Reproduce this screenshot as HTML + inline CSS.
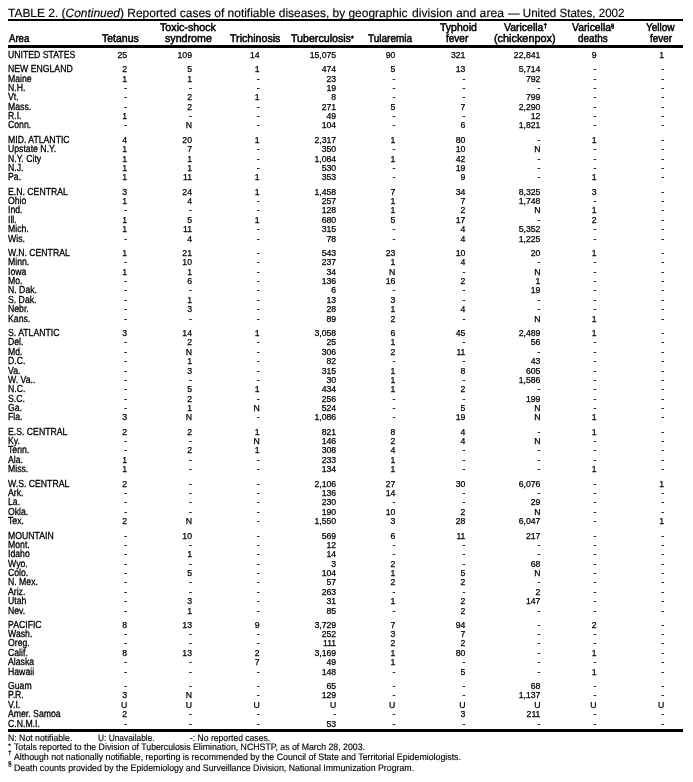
<!DOCTYPE html>
<html lang="en"><head><meta charset="utf-8"><title>TABLE 2. (Continued) Reported cases of notifiable diseases</title>
<style>
html,body{margin:0;padding:0;background:#fff;}
body{width:693px;height:782px;position:relative;overflow:hidden;text-rendering:geometricPrecision;-webkit-text-stroke:0.3px #000;font-family:"Liberation Sans",Arial,Helvetica,sans-serif;color:#000;}
.t,.r,.r span,.h,.f{position:absolute;white-space:nowrap;line-height:1;}
.r{left:0;width:693px;height:0;font-size:8.7px;}
.r span{top:0px;text-rendering:auto;-webkit-text-stroke-width:0.25px;}
.r .a{text-rendering:geometricPrecision;-webkit-text-stroke-width:0.3px;left:8.3px;top:0.73px;font-size:10.2px;transform:scale(0.853,1);transform-origin:0 50%;}
.h{-webkit-text-stroke-width:0.5px;font-weight:normal;font-size:11.2px;transform-origin:0 50%;}
.h sup{font-size:7px;line-height:0;vertical-align:baseline;position:relative;top:-3px;}
.h sup.s{font-size:7.5px;top:-1.5px}
.h sup.p{font-size:6px;top:-3px}
.t{-webkit-text-stroke-width:0.15px;left:8px;top:6.84px;font-size:12px;transform:scaleX(0.9956);transform-origin:0 50%;}
.f{-webkit-text-stroke-width:0.15px;left:8px;font-size:9.4px;transform:scaleX(0.973);transform-origin:0 50%;}
.f sup{font-size:6.5px;line-height:0;vertical-align:baseline;position:relative;top:-3px;}
.l{position:absolute;left:8px;width:675px;background:#000;}
.c1{right:565.8px;}
.c2{right:501px;}
.c3{right:433.3px;}
.c4{right:356.8px;}
.c5{right:297.7px;}
.c6{right:227.6px;}
.c7{right:152.6px;}
.c8{right:96.5px;}
.c9{right:28.8px;}
</style></head><body>
<div class="t" style="left:8.00px;transform:scaleX(0.9956)">TABLE 2. (<i>Continued</i>) Reported cases of notifiable diseases, by geographic</div>
<div class="t" style="left:411.60px;transform:scaleX(1.0137)">division and area</div>
<div class="t" style="left:507.60px;transform:scaleX(0.9648)">— United States, 2002</div>
<div class="l" style="top:19px;height:2px"></div>
<div class="l" style="top:45px;height:3px"></div>
<div class="l" style="top:729px;height:3px"></div>
<div class="h" style="left:8.55px;top:34.12px;transform:scaleX(0.8603)">Area</div>
<div class="h" style="left:102.05px;top:34.12px;transform:scaleX(0.9371)">Tetanus</div>
<div class="h" style="left:160.35px;top:22.92px;transform:scaleX(0.9551)">Toxic-shock</div>
<div class="h" style="left:164.55px;top:34.12px;transform:scaleX(0.9530)">syndrome</div>
<div class="h" style="left:230.25px;top:34.12px;transform:scaleX(0.9504)">Trichinosis</div>
<div class="h" style="left:291.25px;top:34.12px;transform:scaleX(0.9509)">Tuberculosis<sup class="s">*</sup></div>
<div class="h" style="left:368.35px;top:34.12px;transform:scaleX(0.8942)">Tularemia</div>
<div class="h" style="left:439.75px;top:22.92px;transform:scaleX(0.9420)">Typhoid</div>
<div class="h" style="left:446.45px;top:34.12px;transform:scaleX(0.8948)">fever</div>
<div class="h" style="left:504.35px;top:22.92px;transform:scaleX(0.9358)">Varicella<sup>†</sup></div>
<div class="h" style="left:494.45px;top:34.12px;transform:scaleX(0.9702)">(chickenpox)</div>
<div class="h" style="left:571.75px;top:22.92px;transform:scaleX(0.9265)">Varicella<sup class="p">§</sup></div>
<div class="h" style="left:577.75px;top:34.12px;transform:scaleX(0.8854)">deaths</div>
<div class="h" style="left:646.05px;top:22.92px;transform:scaleX(0.8950)">Yellow</div>
<div class="h" style="left:649.75px;top:34.12px;transform:scaleX(0.8868)">fever</div>
<div class="r" style="top:50.64px"><span class="a">UNITED STATES</span><span class="c1">25</span><span class="c2">109</span><span class="c3">14</span><span class="c4">15,075</span><span class="c5">90</span><span class="c6">321</span><span class="c7">22,841</span><span class="c8">9</span><span class="c9">1</span></div>
<div class="r" style="top:64.64px"><span class="a">NEW ENGLAND</span><span class="c1">2</span><span class="c2">5</span><span class="c3">1</span><span class="c4">474</span><span class="c5">5</span><span class="c6">13</span><span class="c7">5,714</span><span class="c8">-</span><span class="c9">-</span></div>
<div class="r" style="top:74.64px"><span class="a">Maine</span><span class="c1">1</span><span class="c2">1</span><span class="c3">-</span><span class="c4">23</span><span class="c5">-</span><span class="c6">-</span><span class="c7">792</span><span class="c8">-</span><span class="c9">-</span></div>
<div class="r" style="top:83.64px"><span class="a">N.H.</span><span class="c1">-</span><span class="c2">-</span><span class="c3">-</span><span class="c4">19</span><span class="c5">-</span><span class="c6">-</span><span class="c7">-</span><span class="c8">-</span><span class="c9">-</span></div>
<div class="r" style="top:92.64px"><span class="a">Vt.</span><span class="c1">-</span><span class="c2">2</span><span class="c3">1</span><span class="c4">8</span><span class="c5">-</span><span class="c6">-</span><span class="c7">799</span><span class="c8">-</span><span class="c9">-</span></div>
<div class="r" style="top:102.64px"><span class="a">Mass.</span><span class="c1">-</span><span class="c2">2</span><span class="c3">-</span><span class="c4">271</span><span class="c5">5</span><span class="c6">7</span><span class="c7">2,290</span><span class="c8">-</span><span class="c9">-</span></div>
<div class="r" style="top:111.64px"><span class="a">R.I.</span><span class="c1">1</span><span class="c2">-</span><span class="c3">-</span><span class="c4">49</span><span class="c5">-</span><span class="c6">-</span><span class="c7">12</span><span class="c8">-</span><span class="c9">-</span></div>
<div class="r" style="top:120.64px"><span class="a">Conn.</span><span class="c1">-</span><span class="c2">N</span><span class="c3">-</span><span class="c4">104</span><span class="c5">-</span><span class="c6">6</span><span class="c7">1,821</span><span class="c8">-</span><span class="c9">-</span></div>
<div class="r" style="top:135.64px"><span class="a">MID. ATLANTIC</span><span class="c1">4</span><span class="c2">20</span><span class="c3">1</span><span class="c4">2,317</span><span class="c5">1</span><span class="c6">80</span><span class="c7">-</span><span class="c8">1</span><span class="c9">-</span></div>
<div class="r" style="top:144.64px"><span class="a">Upstate N.Y.</span><span class="c1">1</span><span class="c2">7</span><span class="c3">-</span><span class="c4">350</span><span class="c5">-</span><span class="c6">10</span><span class="c7">N</span><span class="c8">-</span><span class="c9">-</span></div>
<div class="r" style="top:154.64px"><span class="a">N.Y. City</span><span class="c1">1</span><span class="c2">1</span><span class="c3">-</span><span class="c4">1,084</span><span class="c5">1</span><span class="c6">42</span><span class="c7">-</span><span class="c8">-</span><span class="c9">-</span></div>
<div class="r" style="top:163.64px"><span class="a">N.J.</span><span class="c1">1</span><span class="c2">1</span><span class="c3">-</span><span class="c4">530</span><span class="c5">-</span><span class="c6">19</span><span class="c7">-</span><span class="c8">-</span><span class="c9">-</span></div>
<div class="r" style="top:172.64px"><span class="a">Pa.</span><span class="c1">1</span><span class="c2">11</span><span class="c3">1</span><span class="c4">353</span><span class="c5">-</span><span class="c6">9</span><span class="c7">-</span><span class="c8">1</span><span class="c9">-</span></div>
<div class="r" style="top:187.64px"><span class="a">E.N. CENTRAL</span><span class="c1">3</span><span class="c2">24</span><span class="c3">1</span><span class="c4">1,458</span><span class="c5">7</span><span class="c6">34</span><span class="c7">8,325</span><span class="c8">3</span><span class="c9">-</span></div>
<div class="r" style="top:196.64px"><span class="a">Ohio</span><span class="c1">1</span><span class="c2">4</span><span class="c3">-</span><span class="c4">257</span><span class="c5">1</span><span class="c6">7</span><span class="c7">1,748</span><span class="c8">-</span><span class="c9">-</span></div>
<div class="r" style="top:205.64px"><span class="a">Ind.</span><span class="c1">-</span><span class="c2">-</span><span class="c3">-</span><span class="c4">128</span><span class="c5">1</span><span class="c6">2</span><span class="c7">N</span><span class="c8">1</span><span class="c9">-</span></div>
<div class="r" style="top:215.64px"><span class="a">Ill.</span><span class="c1">1</span><span class="c2">5</span><span class="c3">1</span><span class="c4">680</span><span class="c5">5</span><span class="c6">17</span><span class="c7">-</span><span class="c8">2</span><span class="c9">-</span></div>
<div class="r" style="top:224.64px"><span class="a">Mich.</span><span class="c1">1</span><span class="c2">11</span><span class="c3">-</span><span class="c4">315</span><span class="c5">-</span><span class="c6">4</span><span class="c7">5,352</span><span class="c8">-</span><span class="c9">-</span></div>
<div class="r" style="top:234.64px"><span class="a">Wis.</span><span class="c1">-</span><span class="c2">4</span><span class="c3">-</span><span class="c4">78</span><span class="c5">-</span><span class="c6">4</span><span class="c7">1,225</span><span class="c8">-</span><span class="c9">-</span></div>
<div class="r" style="top:248.64px"><span class="a">W.N. CENTRAL</span><span class="c1">1</span><span class="c2">21</span><span class="c3">-</span><span class="c4">543</span><span class="c5">23</span><span class="c6">10</span><span class="c7">20</span><span class="c8">1</span><span class="c9">-</span></div>
<div class="r" style="top:257.64px"><span class="a">Minn.</span><span class="c1">-</span><span class="c2">10</span><span class="c3">-</span><span class="c4">237</span><span class="c5">1</span><span class="c6">4</span><span class="c7">-</span><span class="c8">-</span><span class="c9">-</span></div>
<div class="r" style="top:267.64px"><span class="a">Iowa</span><span class="c1">1</span><span class="c2">1</span><span class="c3">-</span><span class="c4">34</span><span class="c5">N</span><span class="c6">-</span><span class="c7">N</span><span class="c8">-</span><span class="c9">-</span></div>
<div class="r" style="top:276.64px"><span class="a">Mo.</span><span class="c1">-</span><span class="c2">6</span><span class="c3">-</span><span class="c4">136</span><span class="c5">16</span><span class="c6">2</span><span class="c7">1</span><span class="c8">-</span><span class="c9">-</span></div>
<div class="r" style="top:285.64px"><span class="a">N. Dak.</span><span class="c1">-</span><span class="c2">-</span><span class="c3">-</span><span class="c4">6</span><span class="c5">-</span><span class="c6">-</span><span class="c7">19</span><span class="c8">-</span><span class="c9">-</span></div>
<div class="r" style="top:295.64px"><span class="a">S. Dak.</span><span class="c1">-</span><span class="c2">1</span><span class="c3">-</span><span class="c4">13</span><span class="c5">3</span><span class="c6">-</span><span class="c7">-</span><span class="c8">-</span><span class="c9">-</span></div>
<div class="r" style="top:304.64px"><span class="a">Nebr.</span><span class="c1">-</span><span class="c2">3</span><span class="c3">-</span><span class="c4">28</span><span class="c5">1</span><span class="c6">4</span><span class="c7">-</span><span class="c8">-</span><span class="c9">-</span></div>
<div class="r" style="top:314.64px"><span class="a">Kans.</span><span class="c1">-</span><span class="c2">-</span><span class="c3">-</span><span class="c4">89</span><span class="c5">2</span><span class="c6">-</span><span class="c7">N</span><span class="c8">1</span><span class="c9">-</span></div>
<div class="r" style="top:328.64px"><span class="a">S. ATLANTIC</span><span class="c1">3</span><span class="c2">14</span><span class="c3">1</span><span class="c4">3,058</span><span class="c5">6</span><span class="c6">45</span><span class="c7">2,489</span><span class="c8">1</span><span class="c9">-</span></div>
<div class="r" style="top:337.64px"><span class="a">Del.</span><span class="c1">-</span><span class="c2">2</span><span class="c3">-</span><span class="c4">25</span><span class="c5">1</span><span class="c6">-</span><span class="c7">56</span><span class="c8">-</span><span class="c9">-</span></div>
<div class="r" style="top:347.64px"><span class="a">Md.</span><span class="c1">-</span><span class="c2">N</span><span class="c3">-</span><span class="c4">306</span><span class="c5">2</span><span class="c6">11</span><span class="c7">-</span><span class="c8">-</span><span class="c9">-</span></div>
<div class="r" style="top:356.64px"><span class="a">D.C.</span><span class="c1">-</span><span class="c2">1</span><span class="c3">-</span><span class="c4">82</span><span class="c5">-</span><span class="c6">-</span><span class="c7">43</span><span class="c8">-</span><span class="c9">-</span></div>
<div class="r" style="top:366.64px"><span class="a">Va.</span><span class="c1">-</span><span class="c2">3</span><span class="c3">-</span><span class="c4">315</span><span class="c5">1</span><span class="c6">8</span><span class="c7">605</span><span class="c8">-</span><span class="c9">-</span></div>
<div class="r" style="top:375.64px"><span class="a">W. Va..</span><span class="c1">-</span><span class="c2">-</span><span class="c3">-</span><span class="c4">30</span><span class="c5">1</span><span class="c6">-</span><span class="c7">1,586</span><span class="c8">-</span><span class="c9">-</span></div>
<div class="r" style="top:384.64px"><span class="a">N.C.</span><span class="c1">-</span><span class="c2">5</span><span class="c3">1</span><span class="c4">434</span><span class="c5">1</span><span class="c6">2</span><span class="c7">-</span><span class="c8">-</span><span class="c9">-</span></div>
<div class="r" style="top:394.64px"><span class="a">S.C.</span><span class="c1">-</span><span class="c2">2</span><span class="c3">-</span><span class="c4">256</span><span class="c5">-</span><span class="c6">-</span><span class="c7">199</span><span class="c8">-</span><span class="c9">-</span></div>
<div class="r" style="top:403.64px"><span class="a">Ga.</span><span class="c1">-</span><span class="c2">1</span><span class="c3">N</span><span class="c4">524</span><span class="c5">-</span><span class="c6">5</span><span class="c7">N</span><span class="c8">-</span><span class="c9">-</span></div>
<div class="r" style="top:412.64px"><span class="a">Fla.</span><span class="c1">3</span><span class="c2">N</span><span class="c3">-</span><span class="c4">1,086</span><span class="c5">-</span><span class="c6">19</span><span class="c7">N</span><span class="c8">1</span><span class="c9">-</span></div>
<div class="r" style="top:427.64px"><span class="a">E.S. CENTRAL</span><span class="c1">2</span><span class="c2">2</span><span class="c3">1</span><span class="c4">821</span><span class="c5">8</span><span class="c6">4</span><span class="c7">-</span><span class="c8">1</span><span class="c9">-</span></div>
<div class="r" style="top:436.64px"><span class="a">Ky.</span><span class="c1">-</span><span class="c2">-</span><span class="c3">N</span><span class="c4">146</span><span class="c5">2</span><span class="c6">4</span><span class="c7">N</span><span class="c8">-</span><span class="c9">-</span></div>
<div class="r" style="top:445.64px"><span class="a">Tenn.</span><span class="c1">-</span><span class="c2">2</span><span class="c3">1</span><span class="c4">308</span><span class="c5">4</span><span class="c6">-</span><span class="c7">-</span><span class="c8">-</span><span class="c9">-</span></div>
<div class="r" style="top:455.64px"><span class="a">Ala.</span><span class="c1">1</span><span class="c2">-</span><span class="c3">-</span><span class="c4">233</span><span class="c5">1</span><span class="c6">-</span><span class="c7">-</span><span class="c8">-</span><span class="c9">-</span></div>
<div class="r" style="top:464.64px"><span class="a">Miss.</span><span class="c1">1</span><span class="c2">-</span><span class="c3">-</span><span class="c4">134</span><span class="c5">1</span><span class="c6">-</span><span class="c7">-</span><span class="c8">1</span><span class="c9">-</span></div>
<div class="r" style="top:479.64px"><span class="a">W.S. CENTRAL</span><span class="c1">2</span><span class="c2">-</span><span class="c3">-</span><span class="c4">2,106</span><span class="c5">27</span><span class="c6">30</span><span class="c7">6,076</span><span class="c8">-</span><span class="c9">1</span></div>
<div class="r" style="top:488.64px"><span class="a">Ark.</span><span class="c1">-</span><span class="c2">-</span><span class="c3">-</span><span class="c4">136</span><span class="c5">14</span><span class="c6">-</span><span class="c7">-</span><span class="c8">-</span><span class="c9">-</span></div>
<div class="r" style="top:497.64px"><span class="a">La.</span><span class="c1">-</span><span class="c2">-</span><span class="c3">-</span><span class="c4">230</span><span class="c5">-</span><span class="c6">-</span><span class="c7">29</span><span class="c8">-</span><span class="c9">-</span></div>
<div class="r" style="top:507.64px"><span class="a">Okla.</span><span class="c1">-</span><span class="c2">-</span><span class="c3">-</span><span class="c4">190</span><span class="c5">10</span><span class="c6">2</span><span class="c7">N</span><span class="c8">-</span><span class="c9">-</span></div>
<div class="r" style="top:516.64px"><span class="a">Tex.</span><span class="c1">2</span><span class="c2">N</span><span class="c3">-</span><span class="c4">1,550</span><span class="c5">3</span><span class="c6">28</span><span class="c7">6,047</span><span class="c8">-</span><span class="c9">1</span></div>
<div class="r" style="top:531.64px"><span class="a">MOUNTAIN</span><span class="c1">-</span><span class="c2">10</span><span class="c3">-</span><span class="c4">569</span><span class="c5">6</span><span class="c6">11</span><span class="c7">217</span><span class="c8">-</span><span class="c9">-</span></div>
<div class="r" style="top:540.64px"><span class="a">Mont.</span><span class="c1">-</span><span class="c2">-</span><span class="c3">-</span><span class="c4">12</span><span class="c5">-</span><span class="c6">-</span><span class="c7">-</span><span class="c8">-</span><span class="c9">-</span></div>
<div class="r" style="top:549.64px"><span class="a">Idaho</span><span class="c1">-</span><span class="c2">1</span><span class="c3">-</span><span class="c4">14</span><span class="c5">-</span><span class="c6">-</span><span class="c7">-</span><span class="c8">-</span><span class="c9">-</span></div>
<div class="r" style="top:559.64px"><span class="a">Wyo.</span><span class="c1">-</span><span class="c2">-</span><span class="c3">-</span><span class="c4">3</span><span class="c5">2</span><span class="c6">-</span><span class="c7">68</span><span class="c8">-</span><span class="c9">-</span></div>
<div class="r" style="top:568.64px"><span class="a">Colo.</span><span class="c1">-</span><span class="c2">5</span><span class="c3">-</span><span class="c4">104</span><span class="c5">1</span><span class="c6">5</span><span class="c7">N</span><span class="c8">-</span><span class="c9">-</span></div>
<div class="r" style="top:577.64px"><span class="a">N. Mex.</span><span class="c1">-</span><span class="c2">-</span><span class="c3">-</span><span class="c4">57</span><span class="c5">2</span><span class="c6">2</span><span class="c7">-</span><span class="c8">-</span><span class="c9">-</span></div>
<div class="r" style="top:587.64px"><span class="a">Ariz.</span><span class="c1">-</span><span class="c2">-</span><span class="c3">-</span><span class="c4">263</span><span class="c5">-</span><span class="c6">-</span><span class="c7">2</span><span class="c8">-</span><span class="c9">-</span></div>
<div class="r" style="top:596.64px"><span class="a">Utah</span><span class="c1">-</span><span class="c2">3</span><span class="c3">-</span><span class="c4">31</span><span class="c5">1</span><span class="c6">2</span><span class="c7">147</span><span class="c8">-</span><span class="c9">-</span></div>
<div class="r" style="top:606.64px"><span class="a">Nev.</span><span class="c1">-</span><span class="c2">1</span><span class="c3">-</span><span class="c4">85</span><span class="c5">-</span><span class="c6">2</span><span class="c7">-</span><span class="c8">-</span><span class="c9">-</span></div>
<div class="r" style="top:620.64px"><span class="a">PACIFIC</span><span class="c1">8</span><span class="c2">13</span><span class="c3">9</span><span class="c4">3,729</span><span class="c5">7</span><span class="c6">94</span><span class="c7">-</span><span class="c8">2</span><span class="c9">-</span></div>
<div class="r" style="top:629.64px"><span class="a">Wash.</span><span class="c1">-</span><span class="c2">-</span><span class="c3">-</span><span class="c4">252</span><span class="c5">3</span><span class="c6">7</span><span class="c7">-</span><span class="c8">-</span><span class="c9">-</span></div>
<div class="r" style="top:638.64px"><span class="a">Oreg.</span><span class="c1">-</span><span class="c2">-</span><span class="c3">-</span><span class="c4">111</span><span class="c5">2</span><span class="c6">2</span><span class="c7">-</span><span class="c8">-</span><span class="c9">-</span></div>
<div class="r" style="top:648.64px"><span class="a">Calif.</span><span class="c1">8</span><span class="c2">13</span><span class="c3">2</span><span class="c4">3,169</span><span class="c5">1</span><span class="c6">80</span><span class="c7">-</span><span class="c8">1</span><span class="c9">-</span></div>
<div class="r" style="top:657.64px"><span class="a">Alaska</span><span class="c1">-</span><span class="c2">-</span><span class="c3">7</span><span class="c4">49</span><span class="c5">1</span><span class="c6">-</span><span class="c7">-</span><span class="c8">-</span><span class="c9">-</span></div>
<div class="r" style="top:667.64px"><span class="a">Hawaii</span><span class="c1">-</span><span class="c2">-</span><span class="c3">-</span><span class="c4">148</span><span class="c5">-</span><span class="c6">5</span><span class="c7">-</span><span class="c8">1</span><span class="c9">-</span></div>
<div class="r" style="top:681.64px"><span class="a">Guam</span><span class="c1">-</span><span class="c2">-</span><span class="c3">-</span><span class="c4">65</span><span class="c5">-</span><span class="c6">-</span><span class="c7">68</span><span class="c8">-</span><span class="c9">-</span></div>
<div class="r" style="top:690.64px"><span class="a">P.R.</span><span class="c1">3</span><span class="c2">N</span><span class="c3">-</span><span class="c4">129</span><span class="c5">-</span><span class="c6">-</span><span class="c7">1,137</span><span class="c8">-</span><span class="c9">-</span></div>
<div class="r" style="top:700.64px"><span class="a">V.I.</span><span class="c1">U</span><span class="c2">U</span><span class="c3">U</span><span class="c4">U</span><span class="c5">U</span><span class="c6">U</span><span class="c7">U</span><span class="c8">U</span><span class="c9">U</span></div>
<div class="r" style="top:709.64px"><span class="a">Amer. Samoa</span><span class="c1">2</span><span class="c2">-</span><span class="c3">-</span><span class="c4">-</span><span class="c5">-</span><span class="c6">3</span><span class="c7">211</span><span class="c8">-</span><span class="c9">-</span></div>
<div class="r" style="top:719.64px"><span class="a">C.N.M.I.</span><span class="c1">-</span><span class="c2">-</span><span class="c3">-</span><span class="c4">53</span><span class="c5">-</span><span class="c6">-</span><span class="c7">-</span><span class="c8">-</span><span class="c9">-</span></div>
<div class="f" style="left:8.1px;top:732.64px;transform:scaleX(0.9278)">N: Not notifiable.</div>
<div class="f" style="left:98.2px;top:732.64px;transform:scaleX(0.8903)">U: Unavailable.</div>
<div class="f" style="left:190.3px;top:732.64px;transform:scaleX(0.9150)">-: No reported cases.</div>
<div class="f" style="left:13.6px;top:742.24px;transform:scaleX(0.9332)">Totals reported to the Division of Tuberculosis Elimination, NCHSTP, as of March 28, 2003.</div>
<div class="f" style="left:13.6px;top:752.44px;transform:scaleX(0.9387)">Although not nationally notifiable, reporting is recommended by the Council of State and Territorial Epidemiologists.</div>
<div class="f" style="left:13.6px;top:762.64px;transform:scaleX(0.9363)">Death counts provided by the Epidemiology and Surveillance Division, National Immunization Program.</div>
<div class="f" style="left:8.3px;top:743.70px;font-size:6.5px;transform:none;-webkit-text-stroke-width:0.25px">*</div>
<div class="f" style="left:8.1px;top:750.70px;font-size:6.5px;transform:none;-webkit-text-stroke-width:0.25px">†</div>
<div class="f" style="left:8.0px;top:761.60px;font-size:6.5px;transform:none;-webkit-text-stroke-width:0.25px">§</div>
</body></html>
